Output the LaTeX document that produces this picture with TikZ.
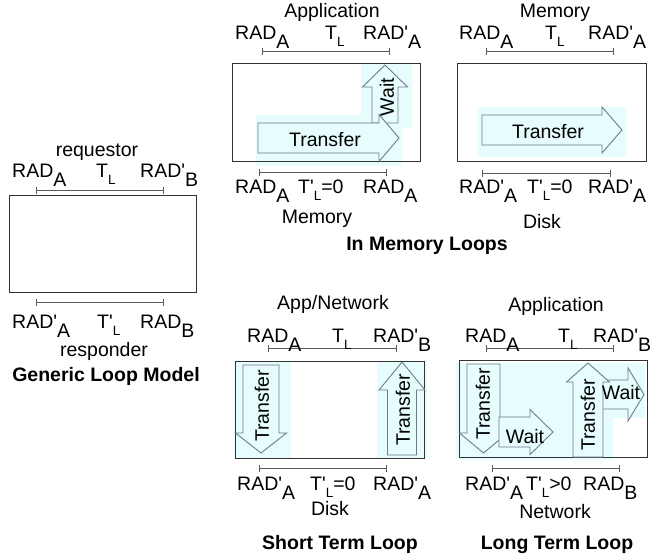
\documentclass[tikz,border=0pt]{standalone}
\usepackage{fontspec}
\setmainfont{Liberation Sans}[Ligatures=TeXOff]
\usetikzlibrary{arrows.meta}

\definecolor{loopbg}{HTML}{E6FCFD}
\definecolor{arrline}{HTML}{6F7C88}

% lowered letters after RAD and T
\newcommand{\sbA}[1]{\raisebox{-0.5em}{#1}}
\newcommand{\sbL}[1]{\raisebox{-0.38em}{\fontsize{13.5}{14}\selectfont #1}}

% block arrows: start, head base, tip, centre line, body half, head half
\newcommand{\arrowH}[6]{%
  \draw[blockarr] (#1,{#4-#5}) -- (#2,{#4-#5}) -- (#2,{#4-#6}) -- (#3,#4)
    -- (#2,{#4+#6}) -- (#2,{#4+#5}) -- (#1,{#4+#5}) -- cycle;}
\newcommand{\arrowV}[6]{%
  \draw[blockarr] ({#4-#5},#1) -- ({#4-#5},#2) -- ({#4-#6},#2) -- (#4,#3)
    -- ({#4+#6},#2) -- ({#4+#5},#2) -- ({#4+#5},#1) -- cycle;}

\begin{document}
\begin{tikzpicture}[
    x=1pt, y=-1pt,
    font=\fontsize{19.5}{22}\selectfont,
    lbl/.style={inner sep=0pt, anchor=base west},
    ttl/.style={inner sep=0pt, anchor=base},
    capt/.style={inner sep=0pt, anchor=base, font=\fontsize{19.5}{22}\selectfont\bfseries},
    arrtxt/.style={inner sep=0pt},
    frame/.style={draw=black!80, line width=0.9pt},
    span/.style={{Bar[width=7pt]}-{Bar[width=7pt]}, draw=black!65, line width=0.9pt},
    blockarr/.style={draw=arrline, fill=loopbg, line width=0.9pt},
]
\useasboundingbox (0,0) rectangle (650,558);

% ---- Light backgrounds ----
\fill[loopbg] (256,115) rectangle (402,166);
\fill[loopbg] (361,64) rectangle (412,128);
\fill[loopbg] (478,107) rectangle (626,157);
\fill[loopbg] (234,361) rectangle (291,458);
\fill[loopbg] (377,361) rectangle (427,458);
\fill[loopbg] (456,363) rectangle (613,460);
\fill[loopbg] (613,363) rectangle (645,418);

% ---- Loop frames ----
\draw[frame] (9,195) rectangle (196,292);
\draw[frame] (232,63) rectangle (420,161);
\draw[frame] (457,63) rectangle (646,161);
\draw[frame] (235,361) rectangle (424,458);
\draw[frame] (459,360) rectangle (647,457);

% ---- Time spans ----
\foreach \xa/\xb/\y in {36/164/190, 36/164/302, 262/390/51, 259/387/172,
                        486/614/51, 482/611/173, 268/397/348, 259/387/468,
                        486/614/348, 492/620/468} {
    \draw[span] (\xa,\y) -- (\xb,\y);
}

% ---- Generic loop model ----
\node[ttl] (req) at (97,156) {requestor};
\node[lbl] (gradA) at (12,177) {RAD\sbA{A}};
\node[lbl] (gtl) at (96,177) {T\sbL{L}};
\node[lbl] (gradB) at (140,177) {RAD'\sbA{B}};
\node[lbl] (gradA2) at (12,328) {RAD'\sbA{A}};
\node[lbl] (gtl2) at (97,328) {T'\sbL{L}};
\node[lbl] (gradB2) at (140,328) {RAD\sbA{B}};
\node[ttl] (resp) at (104,356) {responder};
\node[capt] (gcap) at (106,381) {Generic Loop Model};

% ---- In memory: application ----
\node[ttl] (mapp) at (332,17) {Application};
\node[lbl] (mradA) at (235,39) {RAD\sbA{A}};
\node[lbl] (mtl) at (325,39) {T\sbL{L}};
\node[lbl] (mradA1) at (363,39) {RAD'\sbA{A}};
\arrowV{123}{87}{65}{385}{13}{22.5}
\arrowH{258}{379}{399}{138}{15}{23.5}
\node[arrtxt] (mtr) at (325,140) {Transfer};
\node[arrtxt, rotate=90] (mwait) at (387,97) {Wait};
\node[lbl] (mradA2) at (235,193) {RAD\sbA{A}};
\node[lbl] (mtl2) at (298,193) {T'\sbL{L}=0};
\node[lbl] (mradA3) at (363,193) {RAD\sbA{A}};
\node[ttl] (mmem) at (317,223) {Memory};

% ---- In memory: memory ----
\node[ttl] (dmem) at (555,17) {Memory};
\node[lbl] (dradA) at (459,39) {RAD\sbA{A}};
\node[lbl] (dtl) at (545,39) {T\sbL{L}};
\node[lbl] (dradA1) at (588,39) {RAD'\sbA{A}};
\arrowH{482}{602}{622}{130}{15}{23}
\node[arrtxt] (dtr) at (548,132) {Transfer};
\node[lbl] (dradA2) at (459,193) {RAD'\sbA{A}};
\node[lbl] (dtl2) at (527,193) {T'\sbL{L}=0};
\node[lbl] (dradA3) at (588,193) {RAD'\sbA{A}};
\node[ttl] (ddisk) at (542,228) {Disk};

\node[capt] (memcap) at (427,250) {In Memory Loops};

% ---- Short term loop ----
\node[ttl] (sapp) at (333,309) {App/Network};
\node[lbl] (sradA) at (247,342) {RAD\sbA{A}};
\node[lbl] (stl) at (332,342) {T\sbL{L}};
\node[lbl] (sradB) at (373,342) {RAD'\sbA{B}};
\arrowV{365}{433}{453}{261}{18}{25.5}
\arrowV{455}{390}{362}{402}{14.5}{23}
\node[arrtxt, rotate=90] (str1) at (262,406) {Transfer};
\node[arrtxt, rotate=90] (str2) at (403,410) {Transfer};
\node[lbl] (sradA2) at (237,490) {RAD'\sbA{A}};
\node[lbl] (stl2) at (310,490) {T'\sbL{L}=0};
\node[lbl] (sradA3) at (373,490) {RAD'\sbA{A}};
\node[ttl] (sdisk) at (330,515) {Disk};
\node[capt] (scap) at (340,549) {Short Term Loop};

% ---- Long term loop ----
\node[ttl] (lapp) at (556,311) {Application};
\node[lbl] (lradA) at (465,342) {RAD\sbA{A}};
\node[lbl] (ltl) at (558,342) {T\sbL{L}};
\node[lbl] (lradB) at (593,342) {RAD'\sbA{B}};
\arrowV{364}{433}{453}{483.5}{16.5}{24}
\arrowH{499}{530}{553}{432}{15}{22.5}
\arrowH{597}{628}{644}{394.5}{14.5}{26.5}
\arrowV{457}{382}{363}{588}{15}{21.5}
\node[arrtxt, rotate=90] (ltr1) at (483,404) {Transfer};
\node[arrtxt] (lwait1) at (525,437) {Wait};
\node[arrtxt, rotate=90] (ltr2) at (588,415) {Transfer};
\node[arrtxt] (lwait2) at (621,393) {Wait};
\node[lbl] (lradA2) at (465,490) {RAD'\sbA{A}};
\node[lbl] (ltl2) at (526,490) {T'\sbL{L}>0};
\node[lbl] (lradB2) at (583,490) {RAD\sbA{B}};
\node[ttl] (lnet) at (555,518) {Network};
\node[capt] (lcap) at (557,549) {Long Term Loop};

\end{tikzpicture}
\end{document}
